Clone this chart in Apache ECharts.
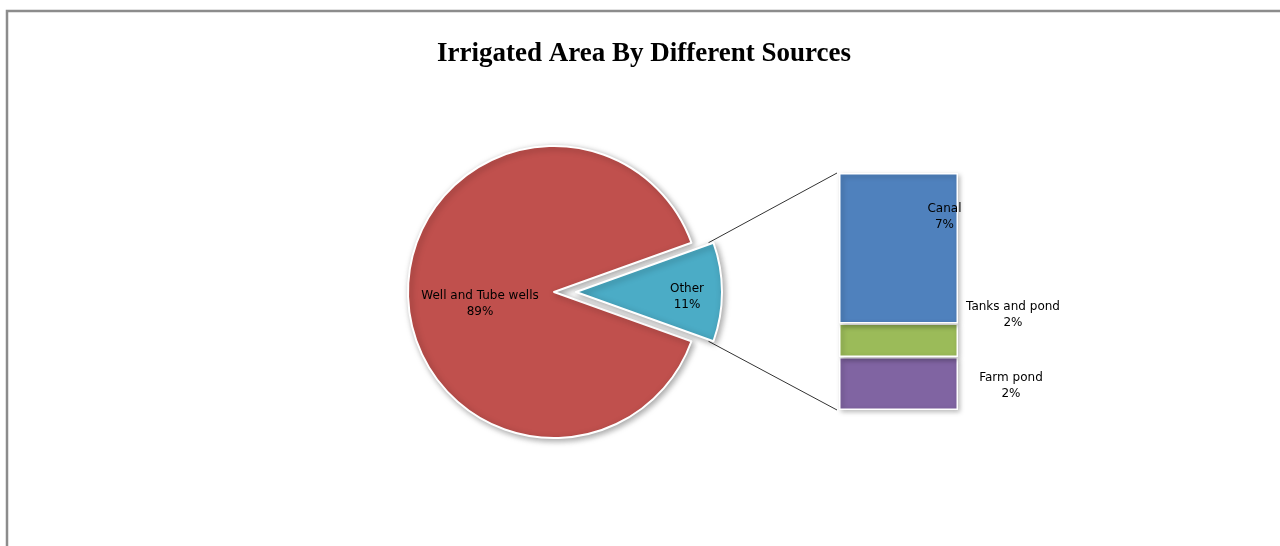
<!DOCTYPE html>
<html>
<head>
<meta charset="utf-8">
<script src="https://cdn.jsdelivr.net/npm/echarts@6/dist/echarts.min.js"></script>
<style>
  html, body { margin: 0; padding: 0; background: #fff; }
  #main { width: 1280px; height: 546px; }
</style>
</head>
<body>
<div id="main"></div>
<script>
// pie slices
var pieNames = ['Well and Tube wells', 'Other'];
var wellValue = 89.05;
// the "Other" slice broken down in the bar
var otherNames = ['Canal', 'Tanks and pond', 'Farm pond'];
var otherValues = [6.95, 1.55, 2.45];
var pieColors = ['#C0504D', '#4BACC6'];
var barColors = ['#4F81BD', '#9BBB59', '#8064A2'];

var otherTotal = otherValues.reduce(function (a, b) { return a + b; }, 0);
var grandTotal = wellValue + otherTotal;

var pieCenter = [554, 292];
var pieRadius = 146;
var pieOffset = 22;
var labelFont = { fontFamily: 'DejaVu Sans', fontSize: 12, lineHeight: 16, color: '#000' };

function pct(v) { return Math.round(v / grandTotal * 100) + '%'; }

// label placements for the bar segments
var barLabelCfg = {
    'Canal': { position: 'insideTop', offset: [46, 23] },
    'Tanks and pond': { position: 'right', offset: [50, -25] },
    'Farm pond': { position: 'right', offset: [48, 2] }
};
// shifts for the pie labels (Other, Well)
var pieLabelShift = [[35, 5], [1, 6]];

var myChart = echarts.init(document.getElementById('main'), null, { renderer: 'canvas' });

var barSeries = [];
for (var i = otherNames.length - 1; i >= 0; i--) {
    var cfg = barLabelCfg[otherNames[i]];
    barSeries.push({
        name: otherNames[i],
        type: 'bar',
        stack: 'other',
        barWidth: '100%',
        data: [otherValues[i]],
        itemStyle: {
            color: barColors[i],
            borderColor: '#fff',
            borderWidth: 1.5,
            shadowBlur: 5,
            shadowColor: 'rgba(0,0,0,0.3)',
            shadowOffsetX: 2,
            shadowOffsetY: 2
        },
        label: Object.assign({
            show: true,
            position: cfg.position,
            offset: cfg.offset,
            align: 'center',
            formatter: function (p) { return p.seriesName + '\n' + pct(p.value); }
        }, labelFont),
        silent: true
    });
}

var option = {
    animation: false,
    title: {
        text: 'Irrigated Area By Different Sources',
        left: 639,
        textAlign: 'center',
        top: 36,
        textStyle: {
            fontFamily: 'Liberation Serif',
            fontWeight: 'bold',
            fontSize: 27,
            color: '#000'
        }
    },
    grid: { left: 839, width: 119, top: 173, bottom: 136 },
    xAxis: { type: 'category', data: ['Other'], show: false },
    yAxis: { type: 'value', min: 0, max: otherTotal, show: false, splitLine: { show: false } },
    series: [{
        type: 'pie',
        center: pieCenter,
        radius: pieRadius,
        startAngle: otherTotal / grandTotal * 180,
        clockwise: true,
        selectedMode: 'single',
        selectedOffset: pieOffset,
        silent: true,
        itemStyle: {
            borderColor: '#fff',
            borderWidth: 2,
            shadowBlur: 6,
            shadowColor: 'rgba(0,0,0,0.35)',
            shadowOffsetX: 2,
            shadowOffsetY: 2
        },
        labelLine: { show: false },
        labelLayout: function (p) {
            var s = pieLabelShift[p.dataIndex];
            return { dx: s[0], dy: s[1] };
        },
        data: [
            { name: pieNames[1], value: otherTotal, selected: true, itemStyle: { color: pieColors[1] } },
            { name: pieNames[0], value: wellValue, itemStyle: { color: pieColors[0] } }
        ],
        label: Object.assign({
            show: true,
            position: 'inside',
            align: 'center',
            formatter: function (p) { return p.name + '\n' + pct(p.value); }
        }, labelFont)
    }].concat(barSeries),
    graphic: [{
        type: 'rect',
        shape: { x: 7, y: 11, width: 1300, height: 600 },
        style: { fill: null, stroke: '#8c8c8c', lineWidth: 2.5 },
        silent: true
    }]
};
myChart.setOption(option);

// connector lines from the exploded slice to the bar
var half = otherTotal / grandTotal * Math.PI;
var apexX = pieCenter[0] + pieOffset;
var edgeX = apexX + pieRadius * Math.cos(half) - 5;
var edgeDy = pieRadius * Math.sin(half);
var barTop = myChart.convertToPixel({ yAxisIndex: 0 }, otherTotal);
var barBottom = myChart.convertToPixel({ yAxisIndex: 0 }, 0);
var barLeft = option.grid.left - 2;
myChart.setOption({
    graphic: [
        option.graphic[0],
        {
            type: 'line', silent: true,
            shape: { x1: edgeX, y1: pieCenter[1] - edgeDy, x2: barLeft, y2: barTop },
            style: { stroke: '#333', lineWidth: 1 }
        },
        {
            type: 'line', silent: true,
            shape: { x1: edgeX, y1: pieCenter[1] + edgeDy, x2: barLeft, y2: barBottom },
            style: { stroke: '#333', lineWidth: 1 }
        }
    ]
});
</script>
</body>
</html>
